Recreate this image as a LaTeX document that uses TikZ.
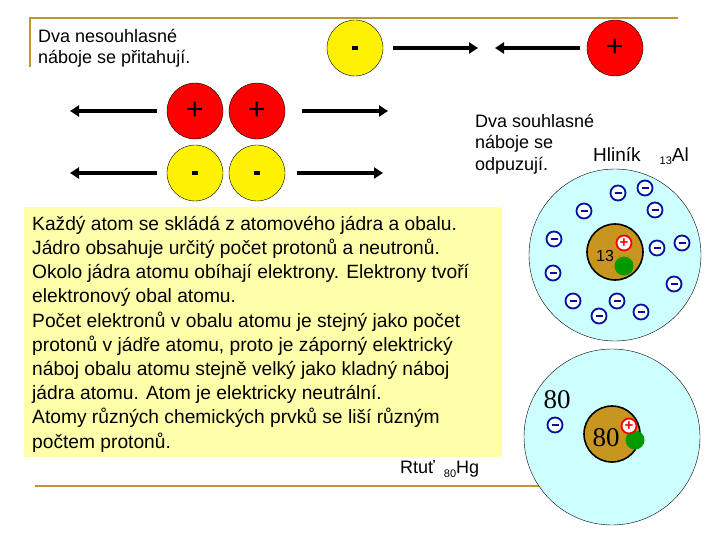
\documentclass[tikz,border=0pt]{standalone}
\usepackage{fontspec}
\setmainfont{Liberation Sans}
\newfontfamily\serifnum{Liberation Serif}
\usetikzlibrary{arrows.meta}
\definecolor{gold}{RGB}{190,150,50}
\definecolor{pale}{RGB}{255,255,170}
\definecolor{sky}{RGB}{205,255,255}
\definecolor{core}{RGB}{200,150,30}
\definecolor{eblue}{RGB}{0,20,160}
\newcommand{\ebar}{\rule[-0.9pt]{7pt}{1.8pt}}
\newcommand{\bminus}{\rule[-2pt]{6pt}{4pt}}
\tikzset{>=Triangle,
  minusball/.style={circle,draw,fill=yellow,minimum size=56pt,inner sep=0pt},
  plusball/.style={circle,draw,fill=red,minimum size=56pt,inner sep=0pt,font=\fontsize{30}{30}\selectfont},
  force/.style={line width=4pt,-{Triangle[length=9pt,width=11pt]}},
  elec/.style={circle,draw=eblue,line width=1.8pt,fill=white,minimum size=15pt,inner sep=0pt,text=eblue},
  prot/.style={circle,draw=red,line width=1.8pt,fill=white,minimum size=15pt,inner sep=0pt,text=red,font=\bfseries\fontsize{15}{15}\selectfont},
  neut/.style={circle,fill=green!60!black,minimum size=19pt,inner sep=0pt}}
\begin{document}
\begin{tikzpicture}[x=1pt,y=-1pt]
\useasboundingbox (0,0) rectangle (720,540);
%frame lines
\draw[gold,line width=2.5pt] (30,67) -- (30,18) -- (678,18);
\node[anchor=north west,align=left,inner sep=0pt,font=\fontsize{18}{21}\selectfont] (t1) at (38,29) {Dva nesouhlasné\\náboje se přitahují.};
%attraction
\node[minusball] (a1) at (355,48) {\bminus};
\node[plusball] (a2) at (615,48) {+};
\coordinate (a1e) at (478,48);
\coordinate (a2e) at (495,48);
\draw[force] (393,48) -- (a1e);
\draw[force] (580,48) -- (a2e);
%repulsion
\node[plusball] (p1) at (195,111) {+};
\node[plusball] (p2) at (257,111) {+};
\node[minusball] (n1) at (195,173) {\bminus};
\node[minusball] (n2) at (257,173) {\bminus};
\coordinate (pl) at (70,111);
\coordinate (pr) at (388,111);
\coordinate (nl) at (70,173);
\coordinate (nr) at (383,173);
\draw[force] (157,111) -- (pl);
\draw[force] (302,111) -- (pr);
\draw[force] (157,173) -- (nl);
\draw[force] (297,173) -- (nr);
\node[anchor=north west,align=left,inner sep=0pt,font=\fontsize{18}{21.5}\selectfont] (t2) at (475,114) {Dva souhlasné\\náboje se\\odpuzují.};
\node[anchor=base west,inner sep=0pt,font=\fontsize{19}{19}\selectfont] (al) at (593,162) {Hliník\quad{\fontsize{11}{11}\selectfont\raisebox{-3pt}{13}}Al};
%text box
\draw[gold,line width=2.5pt] (35,486) -- (540,486);
\fill[pale] (24,207) rectangle (502,457);
\node[anchor=north west,align=left,inner sep=0pt,font=\fontsize{19.2}{24.2}\selectfont] (txt) at (32,216) {Každý atom se skládá z atomového jádra a obalu.\\
Jádro obsahuje určitý počet protonů a neutronů.\\
Okolo jádra atomu obíhají elektrony. Elektrony tvoří\\
elektronový obal atomu.\\
Počet elektronů v obalu atomu je stejný jako počet\\
protonů v jádře atomu, proto je záporný elektrický\\
náboj obalu atomu stejně velký jako kladný náboj\\
jádra atomu. Atom je elektricky neutrální.\\
Atomy různých chemických prvků se liší různým\\
počtem protonů.};
\node[anchor=base west,inner sep=0pt,font=\fontsize{18}{18}\selectfont] (hg) at (400,473) {Rtuť\enspace{\fontsize{11}{11}\selectfont\raisebox{-4pt}{80}}Hg};
%aluminium
\draw[fill=sky] (615,255) circle (86);
\draw[fill=core,line width=1.6pt] (615,252) circle (28);
\node[font=\fontsize{16}{16}\selectfont] (z1) at (605,256) {13};
\node[neut] (g1) at (624,266) {};
\node[prot] (q1) at (624,243) {+};
\foreach \x/\y in {618/193,645/188,655/210,584/211,554/239,682/243,657/248,553/273,674/284,573/301,617/301,641/312,599/316}
  \node[elec] at (\x,\y) {\ebar};
%mercury
\draw[fill=sky] (612,437) circle (88);
\draw[fill=core,line width=1.6pt] (612,434) circle (28);
\node[font=\fontsize{27}{27}\selectfont\serifnum] (z2) at (557,400) {80};
\node[font=\fontsize{27}{27}\selectfont\serifnum] (z3) at (606,438) {80};
\node[neut] (g2) at (635,440) {};
\node[prot] (q2) at (629,426) {+};
\node[elec] (e80) at (555,425) {\ebar};
\end{tikzpicture}
\end{document}
